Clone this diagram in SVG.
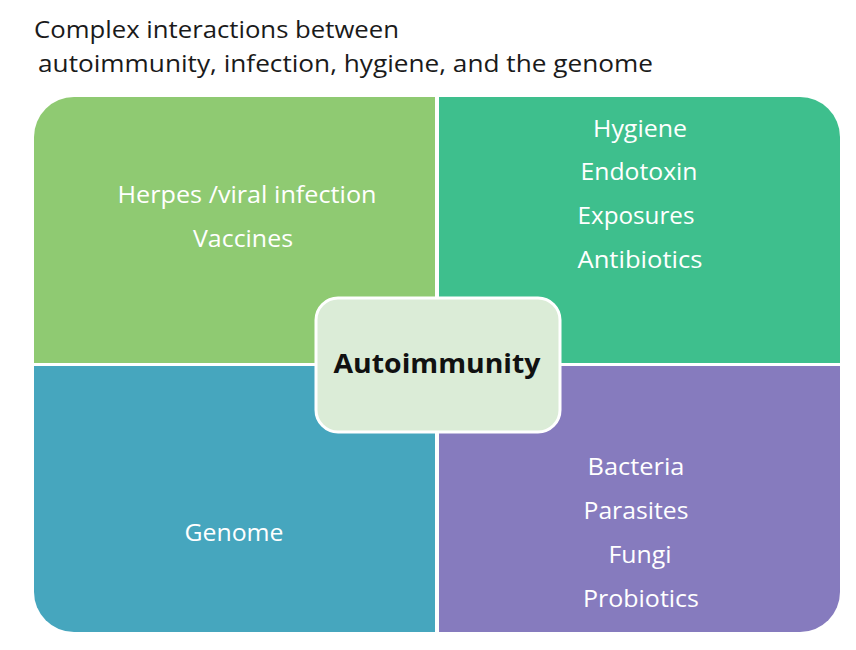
<svg xmlns="http://www.w3.org/2000/svg" width="856" height="650" viewBox="0 0 856 650">
<style>
.t{font-family:"Open Sans","Liberation Sans",sans-serif;fill:#1a1a1a;font-size:23px}
.w{font-family:"Open Sans","Liberation Sans",sans-serif;fill:#ffffff;font-size:24px;text-anchor:middle}
.c{font-family:"Open Sans","Liberation Sans",sans-serif;fill:#111;font-size:27px;font-weight:bold;text-anchor:middle}
</style>
<rect width="856" height="650" fill="#ffffff"/>
<text class="t" x="34" y="38" textLength="365" lengthAdjust="spacingAndGlyphs">Complex interactions between</text>
<text class="t" x="38" y="72" textLength="615" lengthAdjust="spacingAndGlyphs">autoimmunity,  infection, hygiene, and the genome</text>
<g id="q1">
<path d="M34,137 A40,40 0 0 1 74,97 L435,97 L435,363 L34,363 Z" fill="#8fca72"/>
<text class="w" x="247" y="203" textLength="259" lengthAdjust="spacingAndGlyphs">Herpes /viral infection</text>
<text class="w" x="243" y="247" textLength="100" lengthAdjust="spacingAndGlyphs">Vaccines</text>
</g>
<g id="q2">
<path d="M439,97 L800,97 A40,40 0 0 1 840,137 L840,363 L439,363 Z" fill="#3ebf8d"/>
<text class="w" x="640" y="137" textLength="94" lengthAdjust="spacingAndGlyphs">Hygiene</text>
<text class="w" x="639" y="180" textLength="117" lengthAdjust="spacingAndGlyphs">Endotoxin</text>
<text class="w" x="636" y="224" textLength="117" lengthAdjust="spacingAndGlyphs">Exposures</text>
<text class="w" x="640" y="268" textLength="125" lengthAdjust="spacingAndGlyphs">Antibiotics</text>
</g>
<g id="q3">
<path d="M34,366 L435,366 L435,632 L74,632 A40,40 0 0 1 34,592 Z" fill="#46a6be"/>
<text class="w" x="234" y="541" textLength="99" lengthAdjust="spacingAndGlyphs">Genome</text>
</g>
<g id="q4">
<path d="M439,366 L840,366 L840,592 A40,40 0 0 1 800,632 L439,632 Z" fill="#867bbe"/>
<text class="w" x="636" y="475" textLength="97" lengthAdjust="spacingAndGlyphs">Bacteria</text>
<text class="w" x="636" y="519" textLength="105" lengthAdjust="spacingAndGlyphs">Parasites</text>
<text class="w" x="640" y="563" textLength="63" lengthAdjust="spacingAndGlyphs">Fungi</text>
<text class="w" x="641" y="607" textLength="116" lengthAdjust="spacingAndGlyphs">Probiotics</text>
</g>
<g id="center">
<rect x="316" y="298" width="244" height="134" rx="22" fill="#dbecd7" stroke="#ffffff" stroke-width="3"/>
<text class="c" x="437" y="373" textLength="207" lengthAdjust="spacingAndGlyphs">Autoimmunity</text>
</g>
<g id="connectors"></g>
</svg>
